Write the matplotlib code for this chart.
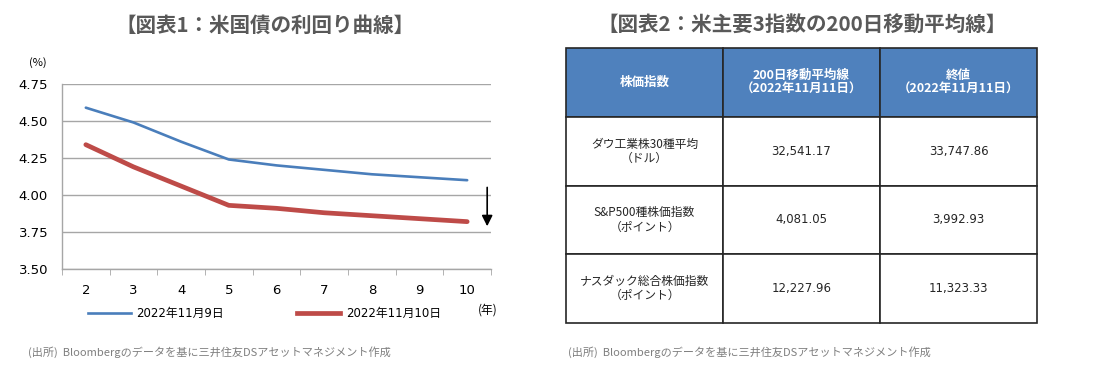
import matplotlib
matplotlib.use('Agg')
import matplotlib.pyplot as plt
from matplotlib.lines import Line2D

plt.rcParams['font.family'] = ['DejaVu Sans', 'Noto Sans CJK JP']

# chart 1: US treasury yield curve
maturities = [2, 3, 4, 5, 6, 7, 8, 9, 10]
yield_nov9 = [4.59, 4.49, 4.36, 4.24, 4.20, 4.17, 4.14, 4.12, 4.10]
yield_nov10 = [4.34, 4.19, 4.06, 3.93, 3.91, 3.88, 3.86, 3.84, 3.82]
yticks = [3.50, 3.75, 4.00, 4.25, 4.50, 4.75]
label_nov9 = '2022年11月9日'
label_nov10 = '2022年11月10日'

# chart 2: table of 200-day moving averages
col_labels = ['株価指数', '200日移動平均線\n（2022年11月11日）', '終値\n（2022年11月11日）']
index_names = ['ダウ工業株30種平均\n（ドル）', 'S&P500種株価指数\n（ポイント）', 'ナスダック総合株価指数\n（ポイント）']
ma200 = ['32,541.17', '4,081.05', '12,227.96']
close = ['33,747.86', '3,992.93', '11,323.33']

title1 = '【図表1：米国債の利回り曲線】'
title2 = '【図表2：米主要3指数の200日移動平均線】'
source = '(出所)  Bloombergのデータを基に三井住友DSアセットマネジメント作成'

title_color = '#595959'
grid_color = '#a6a6a6'
blue = '#4a7ebb'
red = '#be4b48'
cjk = ['Noto Sans CJK JP', 'DejaVu Sans']

W, H = 1099, 366
fig = plt.figure(figsize=(W / 100, H / 100), dpi=100)

# ---- left chart ----
ax = fig.add_axes([62 / W, 1 - 269 / H, (491 - 62) / W, (269 - 84) / H])
ax.plot(maturities, yield_nov9, color=blue, lw=1.9, solid_capstyle='round')
ax.plot(maturities, yield_nov10, color=red, lw=3.4, solid_capstyle='round')
ax.set_xlim(1.5, 10.5)
ax.set_ylim(3.5, 4.75)
ax.set_yticks(yticks)
ax.set_yticklabels([f'{v:.2f}' for v in yticks])
ax.set_xticks(maturities)
ax.set_xticks([m - 0.5 for m in maturities] + [10.5], minor=True)
ax.tick_params(axis='x', which='major', length=0, pad=11, labelsize=9.5)
ax.tick_params(axis='x', which='minor', length=4, color=grid_color, direction='out')
ax.tick_params(axis='y', length=0, pad=10, labelsize=9.5)
ax.yaxis.grid(True, color=grid_color, lw=1)
ax.set_axisbelow(True)
for s in ['top', 'right']:
    ax.spines[s].set_visible(False)
for s in ['left', 'bottom']:
    ax.spines[s].set_color(grid_color)
    ax.spines[s].set_linewidth(1)

ax.annotate('', xy=(10.42, 3.77), xytext=(10.42, 4.07),
            arrowprops=dict(arrowstyle='-|>', color='black', lw=1.2, mutation_scale=16),
            annotation_clip=False)

handles = [Line2D([], [], color=blue, lw=1.9), Line2D([], [], color=red, lw=3.4)]
ax.legend(handles, [label_nov9, label_nov10], ncol=2, frameon=False,
          loc='center left', bbox_to_anchor=(0.05, -0.24), fontsize=8.5,
          handlelength=3.6, handletextpad=0.5, columnspacing=6.2, borderaxespad=0)

fig.text(488 / W, 1 - 310 / H, '(年)', ha='center', va='center', fontsize=8.5, family=cjk)
fig.text(38 / W, 1 - 63 / H, '(%)', ha='center', va='center', fontsize=8, family=cjk)
fig.text(265 / W, 1 - 25 / H, title1, ha='center', va='center', fontsize=14.8,
         fontweight='bold', color=title_color, family=cjk)
fig.text(28 / W, 1 - 352 / H, source, ha='left', va='center', fontsize=8,
         color='#7f7f7f', family=cjk)

# ---- right table ----
tax = fig.add_axes([566 / W, 1 - 323 / H, (1037 - 566) / W, (323 - 48) / H])
tax.axis('off')
cell_text = [[n, a, c] for n, a, c in zip(index_names, ma200, close)]
tbl = tax.table(cellText=cell_text, colLabels=col_labels, cellLoc='center',
                bbox=[0, 0, 1, 1])
tbl.auto_set_font_size(False)
for (r, c), cell in tbl.get_celld().items():
    cell.set_edgecolor('#262626')
    cell.set_linewidth(1.2)
    txt = cell.get_text()
    txt.set_fontfamily(cjk if c == 0 or r == 0 else ['DejaVu Sans'])
    txt.set_linespacing(1.1)
    if r == 0:
        cell.set_facecolor('#4f81bd')
        txt.set_color('white')
        txt.set_fontweight('bold')
        txt.set_fontsize(9)
    else:
        txt.set_color('#262626')
        txt.set_fontsize(8.5)

fig.text(802 / W, 1 - 25 / H, title2, ha='center', va='center', fontsize=14.8,
         fontweight='bold', color=title_color, family=cjk)
fig.text(568 / W, 1 - 352 / H, source, ha='left', va='center', fontsize=8,
         color='#7f7f7f', family=cjk)

fig.savefig('out.png', dpi=100)
